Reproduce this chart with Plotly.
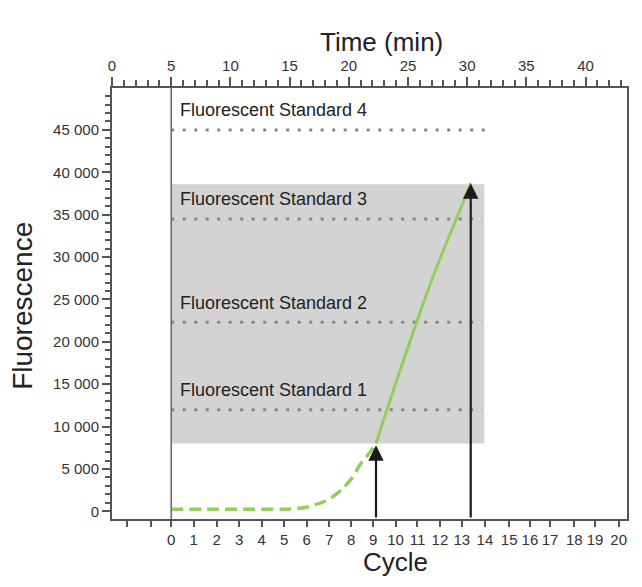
import plotly.graph_objects as go

# bottom axis: cycle number positions expressed in minutes
cycle_tick_time = [1.3, 3.3, 5.0, 6.9, 8.85, 10.75, 12.65, 14.55, 16.45, 18.35, 20.2,
                   22.05, 23.95, 25.8, 27.7, 29.55, 31.5, 33.55, 35.3, 37.0, 39.05, 40.8, 42.8]
cycle_labels = ['', ''] + [str(i) for i in range(21)]

time_ticks = [0, 5, 10, 15, 20, 25, 30, 35, 40]
fluor_ticks = [0, 5000, 10000, 15000, 20000, 25000, 30000, 35000, 40000, 45000]
fluor_labels = ['0', '5 000', '10 000', '15 000', '20 000', '25 000', '30 000', '35 000', '40 000', '45 000']

standard_names = ['Fluorescent Standard 1', 'Fluorescent Standard 2',
                  'Fluorescent Standard 3', 'Fluorescent Standard 4']
standard_levels = [12000, 22300, 34500, 45000]
standard_start = [5.0, 5.0, 5.0, 5.0]
standard_end = [31.25, 31.25, 31.25, 31.75]

box_time = [5.0, 31.45]
box_fluor = [8000, 38600]

curve_dashed_t = [5.0, 8.0, 11.0, 14.5, 15.5, 16.3, 17.2, 18.2, 19.3, 20.2, 21.0, 21.7, 22.3]
curve_dashed_f = [250, 250, 250, 250, 330, 450, 800, 1350, 2450, 3800, 5600, 6800, 8000]
curve_solid_t = [22.3, 23.2, 24.4, 25.6, 26.8, 28.0, 29.2, 30.3]
curve_solid_f = [8000, 11900, 16900, 21800, 26500, 30800, 34900, 38700]

arrow_time = [22.3, 30.3]
arrow_fluor = [7800, 38700]

FONT = 'Liberation Sans, Arial, sans-serif'
AXIS_COLOR = '#555555'
GREEN = '#93cf5a'

fig = go.Figure()

# threshold window
fig.add_shape(type='rect', xref='x', yref='y',
              x0=box_time[0], x1=box_time[1], y0=box_fluor[0], y1=box_fluor[1],
              fillcolor='#d3d3d4', line=dict(width=0), layer='below')

# cycle 0 line
fig.add_shape(type='line', xref='x', yref='paper', x0=5, x1=5, y0=0, y1=1,
              line=dict(color='#666666', width=1.5))

for name, lvl, x0, x1 in zip(standard_names, standard_levels, standard_start, standard_end):
    fig.add_trace(go.Scatter(x=[x0, x1], y=[lvl, lvl], mode='lines',
                             line=dict(color='#858585', width=3, dash='3px,8.5px'),
                             showlegend=False, hoverinfo='skip'))
    fig.add_annotation(x=5.55, y=lvl + 2300, text=name, showarrow=False,
                       xanchor='left', yanchor='middle',
                       font=dict(family=FONT, size=18, color='#222222'))

fig.add_trace(go.Scatter(x=curve_dashed_t, y=curve_dashed_f, mode='lines',
                         line=dict(color=GREEN, width=3.5, dash='12px,6px', shape='spline'),
                         showlegend=False))
fig.add_trace(go.Scatter(x=curve_solid_t, y=curve_solid_f, mode='lines',
                         line=dict(color=GREEN, width=3, shape='spline'),
                         showlegend=False))

# invisible trace so the top time axis gets drawn
fig.add_trace(go.Scatter(x=[0, 43], y=[0, 0], xaxis='x2', mode='lines',
                         line=dict(width=0), showlegend=False, hoverinfo='skip'))

for t, f in zip(arrow_time, arrow_fluor):
    fig.add_annotation(x=t, y=f, ax=t, ay=-900, xref='x', yref='y', axref='x', ayref='y',
                       showarrow=True, arrowhead=2, arrowsize=1.4, arrowwidth=2.2,
                       arrowcolor='#1a1a1a', text='')

# axis titles
title_font = dict(family=FONT, size=26, color='#222222')
fig.add_annotation(text='Time (min)', xref='paper', yref='paper', x=0.523, y=1, yshift=46,
                   showarrow=False, xanchor='center', yanchor='middle', font=title_font)
fig.add_annotation(text='Cycle', xref='paper', yref='paper', x=0.551, y=0, yshift=-43,
                   showarrow=False, xanchor='center', yanchor='middle', font=title_font)
fig.add_annotation(text='Fluorescence', xref='paper', yref='paper', x=0, y=0.295, xshift=-89,
                   showarrow=False, xanchor='center', yanchor='bottom', textangle=-90,
                   font=dict(family=FONT, size=28, color='#222222'))

x_range = [0, 43.5]
tick_font = dict(size=15, color='#333333')

# the page body adds 8px around the figure, so the figure is a bit smaller than the window
fig.update_layout(
    width=626, height=571,
    margin=dict(l=104, r=7, t=80, b=60),
    paper_bgcolor='white', plot_bgcolor='white',
    font=dict(family=FONT, color='#333333'),
    xaxis=dict(
        range=x_range, tickmode='array', tickvals=cycle_tick_time, ticktext=cycle_labels,
        ticks='outside', ticklen=6, tickwidth=1.5, tickcolor=AXIS_COLOR,
        showline=True, linecolor=AXIS_COLOR, linewidth=2, showgrid=False, zeroline=False,
        tickfont=tick_font, automargin=False,
    ),
    xaxis2=dict(
        range=x_range, overlaying='x', side='top', anchor='y', tickmode='array',
        tickvals=time_ticks, ticks='outside', ticklen=9, tickwidth=1.5, tickcolor=AXIS_COLOR,
        minor=dict(dtick=1, tick0=0, ticks='outside', ticklen=6, tickwidth=1.5, tickcolor=AXIS_COLOR),
        showline=True, linecolor=AXIS_COLOR, linewidth=2, showgrid=False, zeroline=False,
        tickfont=tick_font, automargin=False,
    ),
    yaxis=dict(
        range=[-900, 49950], tickmode='array', tickvals=fluor_ticks, ticktext=fluor_labels,
        ticks='outside', ticklen=8, tickwidth=1.5, tickcolor=AXIS_COLOR,
        minor=dict(dtick=1000, tick0=0, ticks='outside', ticklen=5, tickwidth=1.5, tickcolor=AXIS_COLOR),
        showline=True, mirror=True, linecolor=AXIS_COLOR, linewidth=2,
        showgrid=False, zeroline=False, tickfont=tick_font, automargin=False,
    ),
)

fig.write_html('out.html')
